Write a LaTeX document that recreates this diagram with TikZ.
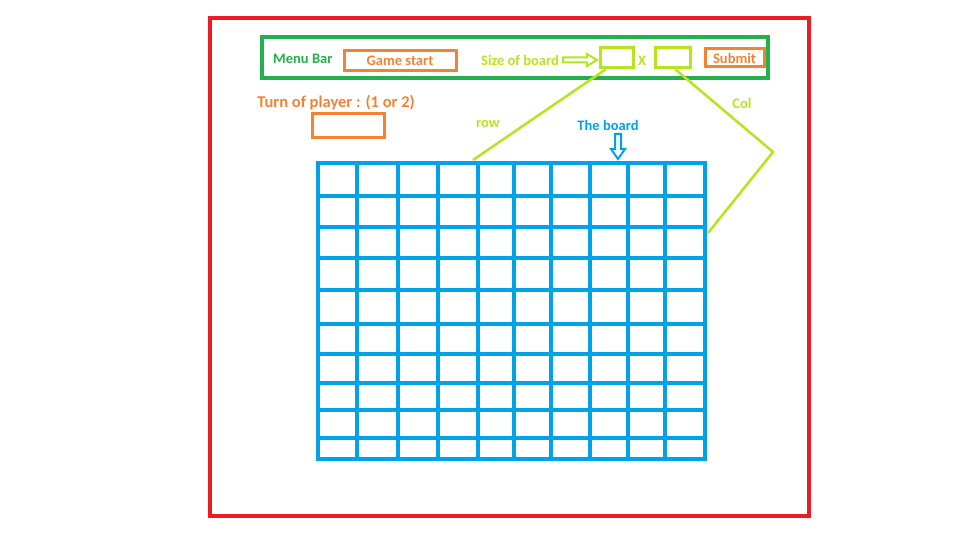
\documentclass[tikz,border=0pt]{standalone}
\usepackage{fontspec}
\setmainfont{Carlito}
\usetikzlibrary{positioning}
\definecolor{framered}{HTML}{ED1C24}
\definecolor{menugreen}{HTML}{22B14C}
\definecolor{paintorange}{HTML}{F58232}
\definecolor{paintlime}{HTML}{B5E61D}
\definecolor{boardblue}{HTML}{00A2E8}

\begin{document}
\begin{tikzpicture}[x=1pt,y=-1pt,font=\bfseries\fontsize{14.5}{17}\selectfont,
    box/.style={draw,line width=3pt,inner sep=0pt},
    link/.style={paintlime,line width=2.5pt}]
    \useasboundingbox (0,0) rectangle (960,540);
    % outer window
    \draw[framered,line width=4pt] (210,18) rectangle (809,516);
    % menu bar
    \node[box,draw=menugreen,line width=4pt,minimum width=506pt,minimum height=41pt] (menubar) at (515,57.5) {};
    \node[text=menugreen,anchor=west,inner sep=0pt] (menulabel) at (273,59) {Menu Bar};
    \node[box,draw=paintorange,text=paintorange,minimum width=112pt,minimum height=20pt] (gamestart) at (400,61) {Game start};
    \node[text=paintlime,anchor=east,inner sep=0pt] (sizelabel) at (559,60) {Size of board};
    \node[box,draw=paintlime,minimum width=33pt,minimum height=20pt] (rowbox) at (616.5,58) {};
    \node[text=paintlime,inner sep=0pt] (times) at (642,61) {X};
    \node[box,draw=paintlime,minimum width=35pt,minimum height=20pt] (colbox) at (672.5,58) {};
    \node[box,draw=paintorange,text=paintorange,minimum width=59pt,minimum height=18pt] (submit) at (734.5,58) {Submit};
    \draw[paintlime,line width=2pt] (563,57.5) -- (587,57.5) -- (587,54) -- (597,60) -- (587,66) -- (587,62.5) -- (563,62.5) -- cycle;
    % player turn
    \node[text=paintorange,inner sep=0pt,font=\bfseries\fontsize{16.5}{19}\selectfont] (turnlabel) at (336,103) {Turn of player : (1 or 2)};
    \node[box,draw=paintorange,minimum width=72pt,minimum height=24pt] (turnbox) at (348,126) {};
    % board
    \node[inner sep=0pt,minimum width=388pt,minimum height=296pt] (board) at (511.5,311) {};
    \foreach \x in {318,357,398,438,478,514,551,590,628,665,705}
        \draw[boardblue,line width=4pt] (\x,161) -- (\x,461);
    \foreach \y in {163,196,227,258,290,324,354,383,410,438,459}
        \draw[boardblue,line width=4pt] (316,\y) -- (707,\y);
    \node[text=boardblue,inner sep=0pt] (boardlabel) at (608,125) {The board};
    \draw[boardblue,line width=2pt] (615,134) -- (621,134) -- (621,149) -- (625,149) -- (618,159) -- (611,149) -- (615,149) -- cycle;
    % row / col links
    \coordinate (rowend) at (473,160);
    \coordinate (colbend) at (773,152);
    \coordinate (colend) at (708,233);
    \draw[link] (rowbox.south west) ++(7,0) -- (rowend);
    \draw[link] (colbox.south) ++(3,0) -- (colbend) -- (colend);
    \node[text=paintlime,inner sep=0pt] (rowlabel) at (488,124) {row};
    \node[text=paintlime,inner sep=0pt] (collabel) at (742,103) {Col};
\end{tikzpicture}
\end{document}
